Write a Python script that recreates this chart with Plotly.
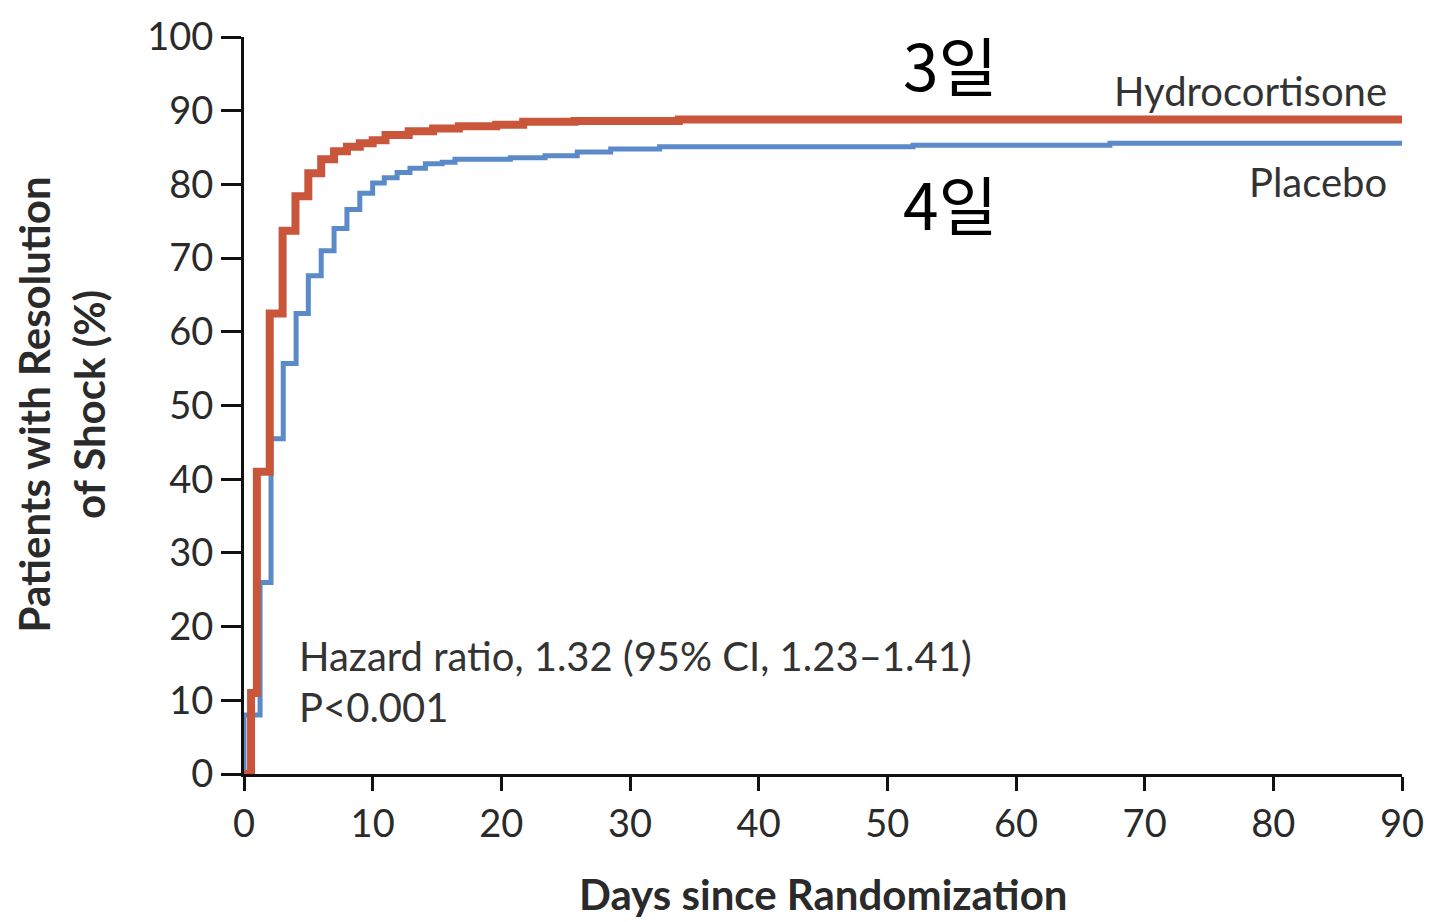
import plotly.graph_objects as go

# Hydrocortisone (red) Kaplan-Meier step curve
hydro_days = [0, 0.55, 1.0, 2.0, 3.0, 4.0, 5.0, 6.0, 7.0, 8.0, 9.0, 10.0, 11.0, 12.8, 14.7, 16.7, 19.6, 21.7, 25.7, 33.8, 90]
hydro_vals = [0, 11, 41, 62.5, 73.7, 78.4, 81.5, 83.4, 84.5, 85.1, 85.6, 86.0, 86.7, 87.2, 87.6, 87.9, 88.1, 88.5, 88.6, 88.8, 88.8]

# Placebo (blue) Kaplan-Meier step curve
placebo_days = [0, 0, 1.25, 2.1, 3.05, 4.05, 5.0, 6.0, 7.0, 8.0, 9.0, 10.0, 10.9, 11.9, 12.9, 14.1, 15.4, 16.4, 20.7, 23.4, 25.9, 28.5, 32.3, 52, 67.3, 90]
placebo_vals = [0, 8, 26, 45.5, 55.7, 62.5, 67.6, 71.0, 74.0, 76.6, 78.8, 80.2, 80.9, 81.6, 82.2, 82.8, 83.0, 83.4, 83.6, 83.9, 84.4, 84.8, 85.1, 85.3, 85.6, 85.6]

x_ticks = [0, 10, 20, 30, 40, 50, 60, 70, 80, 90]
y_ticks = [0, 10, 20, 30, 40, 50, 60, 70, 80, 90, 100]

RED = "#C9553B"
BLUE = "#5A8AC8"
FONT = "Lato"
TXT = "#2a2a2a"

W, H = 1436, 922
L, T = 244, 31
R = W - 1411
B = H - 774
pw, ph = W - L - R, H - T - B


def px(xp):
    return (xp - L) / pw


def py(yp):
    return (H - B - yp) / ph


fig = go.Figure()
fig.add_trace(go.Scatter(x=placebo_days, y=placebo_vals, mode="lines",
                         line=dict(color=BLUE, width=5, shape="hv"), name="Placebo"))
fig.add_trace(go.Scatter(x=hydro_days, y=hydro_vals, mode="lines",
                         line=dict(color=RED, width=8, shape="hv"), name="Hydrocortisone"))

fig.update_layout(
    width=W, height=H,
    margin=dict(l=L, r=R, t=T, b=B),
    paper_bgcolor="white", plot_bgcolor="white",
    showlegend=False,
    font=dict(family=FONT, size=38, color=TXT),
)
fig.update_xaxes(
    range=[0, 90], tickvals=x_ticks, ticktext=[str(v) for v in x_ticks],
    showgrid=False, zeroline=False, showline=True, linecolor="#111", linewidth=3,
    ticks="outside", ticklen=14, tickwidth=3, tickcolor="#111",
    tickfont=dict(family=FONT, size=38, color=TXT),
)
fig.update_yaxes(
    range=[0, 100], tickvals=y_ticks, ticktext=[str(v) for v in y_ticks],
    showgrid=False, zeroline=False, showline=True, linecolor="#111", linewidth=3,
    ticks="outside", ticklen=20, tickwidth=3, tickcolor="#111",
    tickfont=dict(family=FONT, size=38, color=TXT),
)

# axis titles
fig.add_annotation(x=px(828), y=0, yshift=-(920 - (H - B)), xref="paper", yref="paper",
                   text="<b>Days since Randomization</b>", showarrow=False,
                   xanchor="center", yanchor="bottom", borderpad=0,
                   font=dict(family=FONT, size=42, color=TXT))
fig.add_annotation(x=px(60), y=py(401), xref="paper", yref="paper",
                   text="<b>Patients with Resolution<br>of Shock (%)</b>", showarrow=False,
                   xanchor="center", yanchor="middle", textangle=-90,
                   font=dict(family=FONT, size=42, color=TXT))

# series labels
fig.add_annotation(x=px(1398), y=py(85), xref="paper", yref="paper", text="Hydrocortisone",
                   showarrow=False, xanchor="right", yanchor="middle",
                   font=dict(family=FONT, size=40, color="#333"))
fig.add_annotation(x=px(1398), y=py(177), xref="paper", yref="paper", text="Placebo",
                   showarrow=False, xanchor="right", yanchor="middle",
                   font=dict(family=FONT, size=40, color="#333"))

fig.add_annotation(x=px(955), y=py(57), xref="paper", yref="paper", text="3일",
                   showarrow=False, xanchor="center", yanchor="middle",
                   font=dict(family="Noto Sans CJK KR", size=64, color="black"))
fig.add_annotation(x=px(955), y=py(197), xref="paper", yref="paper", text="4일",
                   showarrow=False, xanchor="center", yanchor="middle",
                   font=dict(family="Noto Sans CJK KR", size=64, color="black"))

fig.add_annotation(x=px(297), y=py(655), xref="paper", yref="paper",
                   text="Hazard ratio, 1.32 (95% CI, 1.23\u20131.41)",
                   showarrow=False, xanchor="left", yanchor="middle",
                   font=dict(family=FONT, size=40, color="#333"))
fig.add_annotation(x=px(297), y=py(706), xref="paper", yref="paper",
                   text="P<0.001",
                   showarrow=False, xanchor="left", yanchor="middle",
                   font=dict(family=FONT, size=40, color="#333"))

fig.write_html(
    "out.html",
    config={"displayModeBar": False},
    post_script="document.body.style.margin='0';",
)
